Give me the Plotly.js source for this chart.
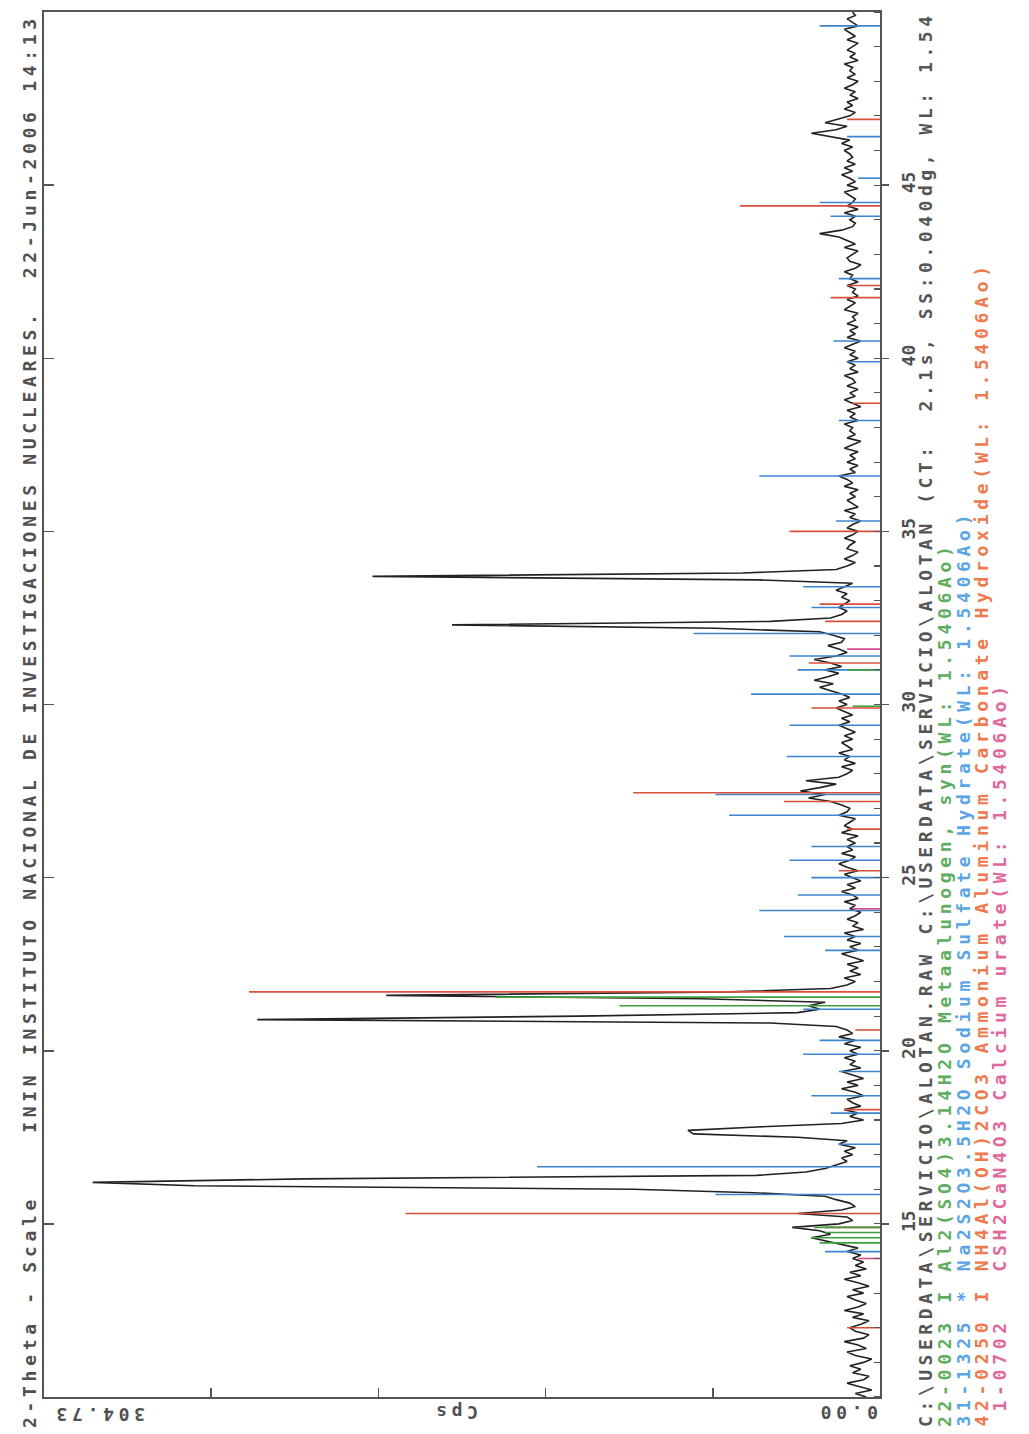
<!DOCTYPE html>
<html><head><meta charset="utf-8">
<script src="https://cdn.plot.ly/plotly-3.0.1.min.js"></script>
<style>html,body{margin:0;padding:0;background:#fff}</style>
</head><body><div id="chart" style="width:1029px;height:1434px"></div>
<script>
// ---- data ----
const thetaStart = 10.0;   // 2-theta of first scan point (deg)
const thetaStep = 0.1;     // step between points (deg)
const cps = [
 5,9,3,8,12,6,4,10,7,11,
 6,3,9,12,5,8,13,6,4,9,
 11,7,4,10,6,13,8,5,9,12,
 6,10,4,8,13,7,11,5,9,6,
 10,7,12,8,14,20,25,18,22,32,
 15,10,12,30,14,9,11,16,20,46,
 90,250,287,210,45,27,20,16,12,14,
 10,13,9,15,12,30,68,70,45,14,
 6,11,8,13,7,10,12,6,9,14,
 8,12,6,10,14,7,11,9,13,8,
 11,7,13,9,15,10,12,16,40,227,
 110,30,22,26,20,65,180,55,18,12,
 9,13,7,11,8,12,6,10,14,8,
 11,7,12,9,13,6,10,8,12,9,
 7,11,9,13,8,10,14,9,12,7,
 10,13,8,12,15,11,9,14,10,12,
 9,12,8,14,10,13,11,9,15,12,
 11,14,18,26,20,29,22,16,27,15,
 12,10,14,9,13,11,15,10,12,14,
 10,13,9,12,15,11,14,10,13,16,
 12,15,11,14,18,22,17,24,19,15,
 20,14,18,24,16,12,15,19,14,13,
 17,22,60,156,40,18,14,12,15,13,
 11,14,12,16,13,10,45,185,50,16,
 12,9,13,10,8,12,11,9,13,10,
 8,12,10,7,11,9,13,8,10,12,
 9,11,8,13,10,12,15,9,11,8,
 12,9,11,8,13,10,7,12,9,11,
 10,13,8,11,9,12,7,10,13,9,
 11,8,12,9,10,13,8,11,9,12,
 8,11,9,13,10,7,12,9,11,8,
 12,9,10,8,13,11,9,12,8,10,
 9,12,8,11,10,13,9,7,11,12,
 10,8,13,9,12,15,22,14,10,9,
 11,9,13,8,12,10,9,11,13,8,
 12,9,11,14,10,13,9,12,10,11,
 13,10,14,11,18,25,16,12,20,15,
 11,9,13,10,12,8,11,9,13,10,
 8,12,9,11,10,13,8,11,9,12,
 10,8,12,9,11,13,8,10,12,9,
 10
];
// reference patterns (2-theta position, intensity in Cps)
const greenPos = [14.45,14.6,14.75,14.9,21.3,21.55,29.95,31.0];
const greenInt = [22,25,20,24,95,140,10,12];
const bluePos = [14.2,15.85,16.65,17.3,18.2,18.7,19.4,19.9,20.3,21.2,22.9,23.3,24.05,24.5,25.0,25.5,25.9,26.8,27.4,28.5,29.4,30.3,31.0,31.4,32.05,32.8,33.4,35.3,36.6,38.2,39.9,40.5,42.3,44.1,44.5,45.2,46.4,49.6];
const blueInt = [20,60,125,15,18,25,15,28,22,28,20,35,44,30,25,33,25,55,60,34,33,47,30,33,68,25,28,16,44,15,12,17,15,18,22,8,12,22];
const redPos = [12.0,14.9,15.3,18.3,20.6,21.7,25.2,26.4,27.2,27.45,29.9,31.2,32.4,32.9,35.0,38.7,41.75,42.1,44.4,46.9];
const redInt = [12,20,173,13,9,230,15,12,35,90,25,26,20,22,33,10,18,12,51,12];
const pinkPos = [14.0,24.1,31.6];
const pinkInt = [8,10,12];

const cpsMax = 304.73;
const thetaMin = 10, thetaMax = 50;
const thetaTicks = [15,20,25,30,35,40,45];
const thetaTickText = ["15","20","25","30","35","40","45"];
const titleText = "2-Theta - Scale\u00A0\u00A0\u00A0\u00A0ININ INSTITUTO NACIONAL DE INVESTIGACIONES NUCLEARES.\u00A0\u00A022-Jun-2006 14:13";
const legendLines = [
 "C:\\USERDATA\\SERVICIO\\ALOTAN.RAW C:\\USERDATA\\SERVICIO\\ALOTAN (CT:\u00A0\u00A02.1s, SS:0.040dg, WL: 1.54",
 "22-0023 I Al2(SO4)3.14H2O Metaalunogen, syn(WL: 1.5406Ao)",
 "31-1325 * Na2S2O3.5H2O Sodium Sulfate Hydrate(WL: 1.5406Ao)",
 "42-0250 I NH4Al(OH)2CO3 Ammonium Aluminum Carbonate Hydroxide(WL: 1.5406Ao)",
 "\u00A01-0702\u00A0\u00A0\u00A0CSH2CaN4O3 Calcium urate(WL: 1.5406Ao)"
];
const legendColors = ["#555555","#5fae5f","#5aa5e6","#ee7a4e","#e0689a"];
const stickColors = {green:"#3f9f3f", blue:"#3d86cf", red:"#d8503c", pink:"#d64c8c"};

// ---- build ----
function sticks(pos, inten, color, yaxis){
  const x=[], y=[];
  pos.forEach((p,i)=>{ x.push(0, inten[i], null); y.push(p, p, null); });
  return {type:'scatter', mode:'lines', x:x, y:y, yaxis:yaxis||'y',
          line:{color:color, width:1.6}, hoverinfo:'skip', showlegend:false};
}
const traces = [
  {type:'scatter', mode:'lines', x:cps, y0:thetaStart, dy:thetaStep,
   line:{color:'#222', width:1.6}, showlegend:false},
  sticks(bluePos, blueInt, stickColors.blue),
  sticks(redPos, redInt, stickColors.red),
  sticks(greenPos, greenInt, stickColors.green, 'y2'),
  sticks(pinkPos, pinkInt, stickColors.pink)
];

const L=44, R=880, T=12, B=1397;
const px = v => (v-L)/(R-L);
const py = v => (B-v)/(B-T);
const mono = "DejaVu Sans Mono, monospace";
const spaced = (t, ls) => '<span style="letter-spacing:'+(ls||4.7)+'px">'+t+'</span>';

const annotations = [];
annotations.push({xref:'paper', yref:'paper', x:px(30), y:py(1430), xanchor:'center', yanchor:'bottom',
  textangle:-90, showarrow:false, text:spaced(titleText), font:{family:mono, size:18, color:'#505050', weight:'bold'}});
const legendX = [925, 944, 963, 981, 999];
legendLines.forEach((t,i)=>{
  annotations.push({xref:'paper', yref:'paper', x:px(legendX[i]), y:py(1429), xanchor:'center', yanchor:'bottom',
    textangle:-90, showarrow:false, text:spaced(t, i===0 ? 4.55 : 4.7),
    font:{family:mono, size:18, color:legendColors[i], weight:'bold'}});
});
annotations.push({xref:'paper', yref:'paper', x:px(50), y:py(1415), xanchor:'left', yanchor:'middle',
  textangle:180, showarrow:false, text:spaced(cpsMax.toFixed(2)), font:{family:mono, size:18, color:'#505050', weight:'bold'}});
annotations.push({xref:'paper', yref:'paper', x:px(880), y:py(1413), xanchor:'right', yanchor:'middle',
  textangle:180, showarrow:false, text:spaced((0).toFixed(2)), font:{family:mono, size:18, color:'#505050', weight:'bold'}});
annotations.push({xref:'paper', yref:'paper', x:px(455), y:py(1413), xanchor:'center', yanchor:'middle',
  textangle:180, showarrow:false, text:spaced('Cps'), font:{family:mono, size:18, color:'#505050', weight:'bold'}});

const layout = {
  width:1029, height:1434,
  margin:{l:L, r:1029-R, t:T, b:1434-B, pad:0},
  paper_bgcolor:'#ffffff', plot_bgcolor:'#ffffff',
  showlegend:false,
  xaxis:{range:[cpsMax,0], showgrid:false, zeroline:false, showline:true, mirror:true,
    linecolor:'#555', linewidth:2, ticks:'inside', ticklen:9, tickcolor:'#555', tickwidth:1.5,
    tickvals:[1,2,3,4].map(k=>k*cpsMax/5), showticklabels:false},
  yaxis:{range:[thetaMin,thetaMax], side:'right', showgrid:false, zeroline:false, showline:true, mirror:true,
    linecolor:'#555', linewidth:2, ticks:'outside', ticklen:7, tickcolor:'#555', tickwidth:1.5,
    tickvals:thetaTicks, ticktext:thetaTickText, tickangle:-90, ticklabelstandoff:4,
    tickfont:{family:mono, size:18, color:'#505050', weight:'bold'},
    minor:{ticks:'inside', dtick:1, ticklen:6, tickcolor:'#555', tickwidth:1.2}},
  yaxis2:{range:[thetaMin,thetaMax], overlaying:'y', side:'left', anchor:'x', showgrid:false, zeroline:false,
    showline:false, ticks:'inside', ticklen:10, tickcolor:'#555', tickwidth:1.5, tickvals:thetaTicks, showticklabels:false},
  annotations:annotations
};
Plotly.newPlot('chart', traces, layout, {displayModeBar:false, staticPlot:true});
</script></body></html>
